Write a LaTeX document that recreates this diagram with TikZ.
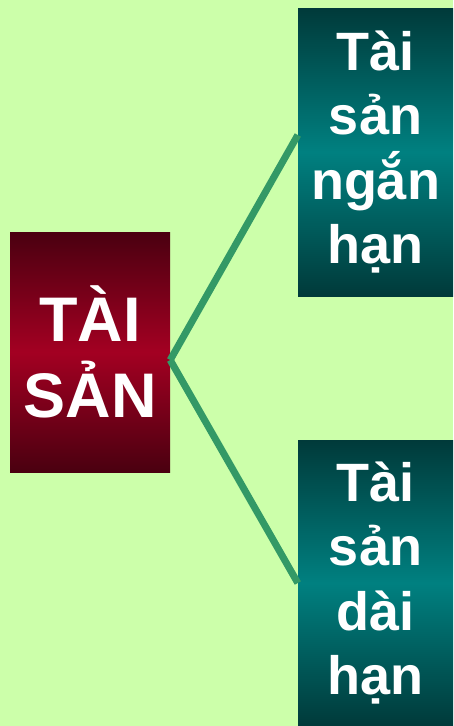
\documentclass[tikz,border=0pt]{standalone}
\usepackage{fontspec}
\setmainfont{Liberation Sans}
\definecolor{nen}{HTML}{CCFFAA}
\definecolor{dodam}{HTML}{4A0010}
\definecolor{dosang}{HTML}{A30022}
\definecolor{xanhdam}{HTML}{003A3A}
\definecolor{xanhsang}{HTML}{008080}
\definecolor{noi}{HTML}{339966}
\tikzset{
  hopdo/.style={top color=dodam, bottom color=dodam, middle color=dosang,
    minimum width=160pt, minimum height=240pt, inner sep=0pt, text=white,
    align=center, font=\bfseries\fontsize{63}{76}\selectfont},
  hopxanh/.style={top color=xanhdam, bottom color=xanhdam, middle color=xanhsang,
    minimum width=155pt, minimum height=288pt, inner sep=0pt, text=white,
    align=center, font=\bfseries\fontsize{54}{64.5}\selectfont},
  noidung/.style={draw=noi, line width=7pt}
}
\begin{document}
\begin{tikzpicture}[x=1pt, y=1pt]
        \fill[nen] (0,0) rectangle (453,-726);
        \useasboundingbox (0,0) rectangle (453,-726);

        \node[hopdo] (taisan) at (90,-352) {TÀI\\SẢN};
        \node[hopxanh] (nganhan) at (375.5,-152) {Tài\\sản\\ngắn\\hạn};
        \node[hopxanh, minimum height=286pt] (daihan) at (375.5,-583) {Tài\\sản\\dài\\hạn};

        \coordinate (goc) at ([yshift=-8pt]taisan.east);
        \coordinate (dau1) at ([yshift=17pt]nganhan.west);
        \draw[noidung] (goc) -- (dau1);
        \draw[noidung] (goc) -- (daihan.west);
    \end{tikzpicture}
\end{document}
